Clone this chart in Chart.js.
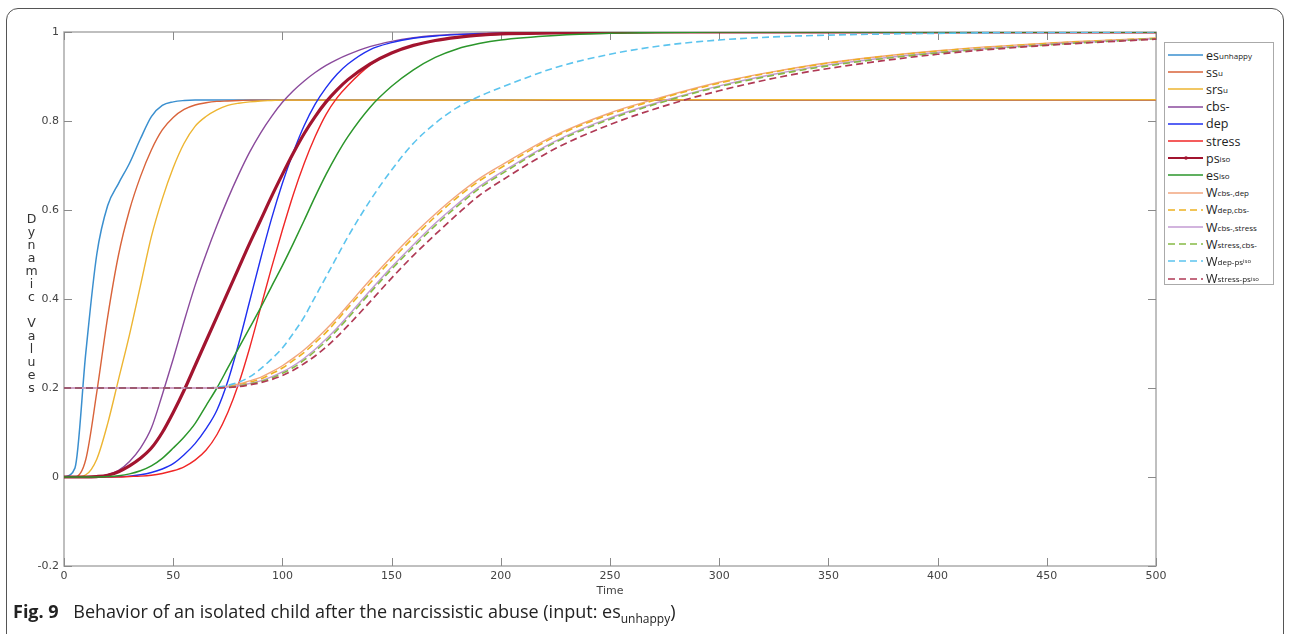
<!DOCTYPE html>
<html>
<head>
<meta charset="utf-8">
<script src="https://cdn.jsdelivr.net/npm/chart.js@4.4.1/dist/chart.umd.min.js"></script>
<style>
  html, body { margin: 0; padding: 0; background: #fff; }
  body { width: 1291px; height: 634px; position: relative; overflow: hidden; font-family: "Open Sans", sans-serif; }
  #frame { position: absolute; left: 6px; top: 8px; width: 1278px; height: 660px; border: 1.5px solid #555; border-radius: 12px; box-sizing: border-box; }
  #c { position: absolute; left: 0; top: 0; }
  #ytitle { position: absolute; left: 24px; top: 211px; font-family: "DejaVu Sans", sans-serif; font-size: 12.5px; color: #333;
            writing-mode: vertical-lr; text-orientation: upright; letter-spacing: -2px; }
  #legend { position: absolute; left: 1164px; top: 42px; width: 110px; height: 243px; border: 1px solid #aaa; box-sizing: border-box; background: #fff; }
  .item { position: absolute; left: 3px; height: 16px; display: flex; align-items: center; white-space: nowrap; color: #222; font-size: 12.5px; }
  .item svg { margin-right: 3px; }
  .item .s { font-size: 8px; }
  .item .s2 { font-size: 6px; }
  #caption { position: absolute; left: 13px; top: 599px; font-size: 18px; color: #222; white-space: nowrap; }
  #caption b { margin-right: 10px; }
  #caption sub { font-size: 12px; }
</style>
</head>
<body>
<div id="frame"></div>
<canvas id="c" width="1291" height="634"></canvas>
<div id="ytitle">Dynamic Values</div>
<div id="legend"></div>
<div id="caption"><b>Fig. 9</b> Behavior of an isolated child after the narcissistic abuse (input: es<sub>unhappy</sub>)</div>
<script>
// time axis (shared by every series)
const T = [0,5,10,15,20,25,30,35,40,45,50,55,60,65,70,75,80,85,90,95,100,105,110,115,120,125,130,
  140,150,160,170,180,190,200, 225,250,275,300,325,350, 400,450,500];

const esUnhappy = [0,0.02,0.28,0.5,0.61,0.66,0.705,0.76,0.81,0.835,0.843,0.846,
  0.847,0.847,0.847,0.847,0.847,0.847,0.847,0.847,0.847,0.847,0.847,0.847,0.847,0.847,0.847,
  0.847,0.847,0.847,0.847,0.847,0.847,0.847, 0.847,0.847,0.847,0.847,0.847,0.847, 0.847,0.847,0.847];
const ssU = [0,0,0.04,0.19,0.36,0.5,0.6,0.675,0.735,0.78,0.808,0.826,0.836,0.841,0.844,0.845,0.846,
  0.847,0.847,0.847,0.847,0.847,0.847,0.847,0.847,0.847,0.847,
  0.847,0.847,0.847,0.847,0.847,0.847,0.847, 0.847,0.847,0.847,0.847,0.847,0.847, 0.847,0.847,0.847];
const srsU = [0,0,0.005,0.04,0.12,0.22,0.32,0.43,0.54,0.625,0.695,0.75,0.788,0.81,0.825,0.835,0.84,0.843,0.845,0.846,
  0.847,0.847,0.847,0.847,0.847,0.847,0.847,
  0.847,0.847,0.847,0.847,0.847,0.847,0.847, 0.848,0.848,0.848,0.848,0.848,0.848, 0.848,0.848,0.848];
const cbs = [0,0,0,0.001,0.005,0.015,0.035,0.065,0.11,0.185,0.265,0.35,0.43,0.5,0.565,0.625,0.68,0.73,0.773,0.81,0.842,0.868,0.89,0.909,0.925,0.938,0.949,
  0.967,0.979,0.987,0.992,0.995,0.997,0.998, 0.999,1,1,1,1,1, 1,1,1];
const dep = [0,0,0,0,0,0.001,0.002,0.005,0.01,0.018,0.03,0.05,0.075,0.108,0.15,0.215,0.3,0.395,0.49,0.58,0.66,0.73,0.79,0.838,0.875,0.905,0.928,
  0.96,0.976,0.986,0.991,0.994,0.996,0.997, 0.999,1,1,1,1,1, 1,1,1];
const stress = [0,0,0,0,0,0,0.001,0.002,0.004,0.008,0.014,0.023,0.038,0.06,0.095,0.145,0.21,0.29,0.38,0.47,0.555,0.635,0.705,0.765,0.815,0.852,0.88,
  0.925,0.953,0.97,0.981,0.988,0.992,0.995, 0.998,0.999,1,1,1,1, 1,1,1];
const psIso = [0,0,0,0.001,0.004,0.012,0.025,0.042,0.065,0.1,0.145,0.195,0.25,0.305,0.36,0.415,0.47,0.525,0.577,0.63,0.68,0.728,0.772,0.81,0.843,0.87,0.893,
  0.928,0.953,0.97,0.981,0.988,0.993,0.996, 0.998,0.999,1,1,1,1, 1,1,1];
const esIso = [0,0,0,0,0.001,0.003,0.007,0.014,0.025,0.042,0.065,0.09,0.12,0.16,0.2,0.245,0.29,0.335,0.38,0.428,0.475,0.525,0.577,0.63,0.68,0.725,0.765,
  0.83,0.878,0.915,0.943,0.962,0.974,0.982, 0.992,0.997,0.999,1,1,1, 1,1,1];
const wCbsDep = [0.2,0.2,0.2,0.2,0.2,0.2,0.2,0.2,0.2,0.2,0.2,0.2,0.2,0.2,
  0.201,0.204,0.209,0.216,0.224,0.236,0.25,0.267,0.286,0.308,0.332,0.358,0.386,
  0.442,0.495,0.545,0.591,0.633,0.67,0.7, 0.768,0.818,0.855,0.887,0.911,0.931, 0.958,0.975,0.986];
const wDepCbs = [0.2,0.2,0.2,0.2,0.2,0.2,0.2,0.2,0.2,0.2,0.2,0.2,0.2,0.2,
  0.201,0.203,0.207,0.213,0.22,0.232,0.245,0.262,0.28,0.302,0.325,0.352,0.38,
  0.435,0.488,0.538,0.585,0.628,0.665,0.695, 0.765,0.815,0.853,0.885,0.91,0.93, 0.957,0.974,0.986];
const wCbsStress = [0.2,0.2,0.2,0.2,0.2,0.2,0.2,0.2,0.2,0.2,0.2,0.2,0.2,0.2,
  0.2,0.202,0.205,0.21,0.216,0.225,0.236,0.25,0.267,0.287,0.31,0.335,0.362,
  0.418,0.472,0.522,0.57,0.613,0.652,0.684, 0.755,0.807,0.846,0.879,0.905,0.926, 0.954,0.972,0.985];
const wStressCbs = [0.2,0.2,0.2,0.2,0.2,0.2,0.2,0.2,0.2,0.2,0.2,0.2,0.2,0.2,
  0.2,0.202,0.204,0.209,0.214,0.222,0.233,0.246,0.263,0.283,0.305,0.33,0.357,
  0.413,0.467,0.517,0.565,0.608,0.648,0.68, 0.752,0.804,0.844,0.877,0.903,0.924, 0.953,0.971,0.985];
const wDepPs = [0.2,0.2,0.2,0.2,0.2,0.2,0.2,0.2,0.2,0.2,0.2,0.2,0.2,0.2,
  0.202,0.206,0.213,0.225,0.243,0.265,0.29,0.323,0.36,0.405,0.45,0.495,0.54,
  0.62,0.69,0.75,0.795,0.83,0.855,0.875, 0.92,0.95,0.97,0.982,0.989,0.993, 0.997,0.999,1];
const wStressPs = [0.2,0.2,0.2,0.2,0.2,0.2,0.2,0.2,0.2,0.2,0.2,0.2,0.2,0.2,
  0.2,0.201,0.203,0.207,0.212,0.219,0.228,0.24,0.255,0.272,0.292,0.315,0.34,
  0.393,0.447,0.498,0.545,0.59,0.632,0.665, 0.738,0.792,0.834,0.868,0.896,0.918, 0.95,0.97,0.984];

const xTicks = [0,50,100,150,200,250,300,350,400,450,500];
const yTicks = [-0.2,0,0.2,0.4,0.6,0.8,1];

const seriesValues = [esUnhappy, ssU, srsU, cbs, dep, stress, psIso, esIso,
  wCbsDep, wDepCbs, wCbsStress, wStressCbs, wDepPs, wStressPs];
const legendMain = ["es", "ss", "srs", "cbs-", "dep", "stress", "ps", "es", "W", "W", "W", "W", "W", "W"];
const legendSub = ["unhappy", "u", "u", "", "", "", "iso", "iso", "cbs-,dep", "dep,cbs-", "cbs-,stress", "stress,cbs-", "dep-ps", "stress-ps"];
const legendSub2 = ["", "", "", "", "", "", "", "", "", "", "", "", "iso", "iso"];

// styles
const colors = ["#3a8fcf", "#d9633a", "#edb531", "#8a4a9c", "#1f2ff0", "#f02626", "#a2142f", "#2b962b",
  "#f2a67e", "#edb120", "#c39bd3", "#86bb45", "#5cc4ee", "#b03a55"];
const widths = [1.5, 1.4, 1.4, 1.4, 1.4, 1.4, 3.2, 1.5, 1.4, 1.6, 1.4, 1.6, 1.6, 1.7];
const dashes = [null, null, null, null, null, null, null, null, null, [7, 4], null, [7, 4], [7, 4], [7, 4]];

const $ = (id) => document.getElementById(id);

const boxAndTicks = {
  id: "boxAndTicks",
  beforeDatasetsDraw(chart) {
    const { ctx, chartArea: a, scales: { x, y } } = chart;
    ctx.save();
    ctx.strokeStyle = "#ababab";
    ctx.lineWidth = 1.5;
    ctx.strokeRect(a.left, a.top, a.right - a.left, a.bottom - a.top);
    ctx.strokeStyle = "#8a8a8a";
    ctx.lineWidth = 1;
    ctx.beginPath();
    xTicks.forEach((v) => {
      const px = Math.round(x.getPixelForValue(v)) + 0.5;
      ctx.moveTo(px, a.bottom); ctx.lineTo(px, a.bottom - 8);
      ctx.moveTo(px, a.top); ctx.lineTo(px, a.top + 8);
    });
    yTicks.forEach((v) => {
      const py = Math.round(y.getPixelForValue(v)) + 0.5;
      ctx.moveTo(a.left, py); ctx.lineTo(a.left + 8, py);
      ctx.moveTo(a.right, py); ctx.lineTo(a.right - 8, py);
    });
    ctx.stroke();
    ctx.restore();
  }
};

const datasets = seriesValues.map((vals, i) => ({
  label: legendMain[i] + legendSub[i] + legendSub2[i],
  data: T.map((t, k) => ({ x: t, y: vals[k] })),
  borderColor: colors[i],
  backgroundColor: colors[i],
  borderWidth: widths[i],
  borderDash: dashes[i] || [],
  pointRadius: 0,
  cubicInterpolationMode: "monotone",
  fill: false,
  order: seriesValues.length - i
}));

new Chart($("c"), {
  type: "line",
  data: { datasets },
  options: {
    responsive: false,
    animation: false,
    devicePixelRatio: 1,
    layout: { padding: { left: 0, top: 32, right: 135, bottom: 28 } },
    plugins: { legend: { display: false }, tooltip: { enabled: false } },
    scales: {
      x: {
        type: "linear", min: 0, max: 500,
        afterBuildTicks: (s) => { s.ticks = xTicks.map((v) => ({ value: v })); },
        afterFit: (s) => { s.height = 40; },
        ticks: { color: "#444", font: { family: "DejaVu Sans", size: 11 }, padding: 4, maxRotation: 0 },
        grid: { display: false, drawTicks: false },
        border: { display: false },
        title: { display: true, text: "Time", color: "#444", font: { family: "DejaVu Sans", size: 11 }, padding: { top: 0, bottom: 8 } }
      },
      y: {
        type: "linear", min: -0.2, max: 1,
        afterBuildTicks: (s) => { s.ticks = yTicks.map((v) => ({ value: v })); },
        afterFit: (s) => { s.width = 64; },
        ticks: { color: "#444", font: { family: "DejaVu Sans", size: 11 }, padding: 5,
                 callback: (v) => String(Number(v.toFixed(1))) },
        grid: { display: false, drawTicks: false },
        border: { display: false }
      }
    }
  },
  plugins: [boxAndTicks]
});

// legend with subscripts
function renderLegend() {
  const box = $("legend");
  legendMain.forEach((m, i) => {
    const it = document.createElement("div");
    it.className = "item";
    it.style.top = (4 + i * 17.2) + "px";
    const dash = dashes[i] ? `stroke-dasharray="${dashes[i].join(" ")}"` : "";
    const marker = i === 6 ? `<circle cx="18" cy="5" r="1.8" fill="${colors[i]}"/>` : "";
    it.innerHTML =
      `<svg width="35" height="10"><line x1="0" y1="5" x2="35" y2="5" stroke="${colors[i]}" stroke-width="${Math.min(widths[i], 2)}" ${dash}/>${marker}</svg>` +
      `<span>${m}</span><span class="s">${legendSub[i]}</span><span class="s2">${legendSub2[i]}</span>`;
    box.appendChild(it);
  });
}
renderLegend();
</script>
</body>
</html>
